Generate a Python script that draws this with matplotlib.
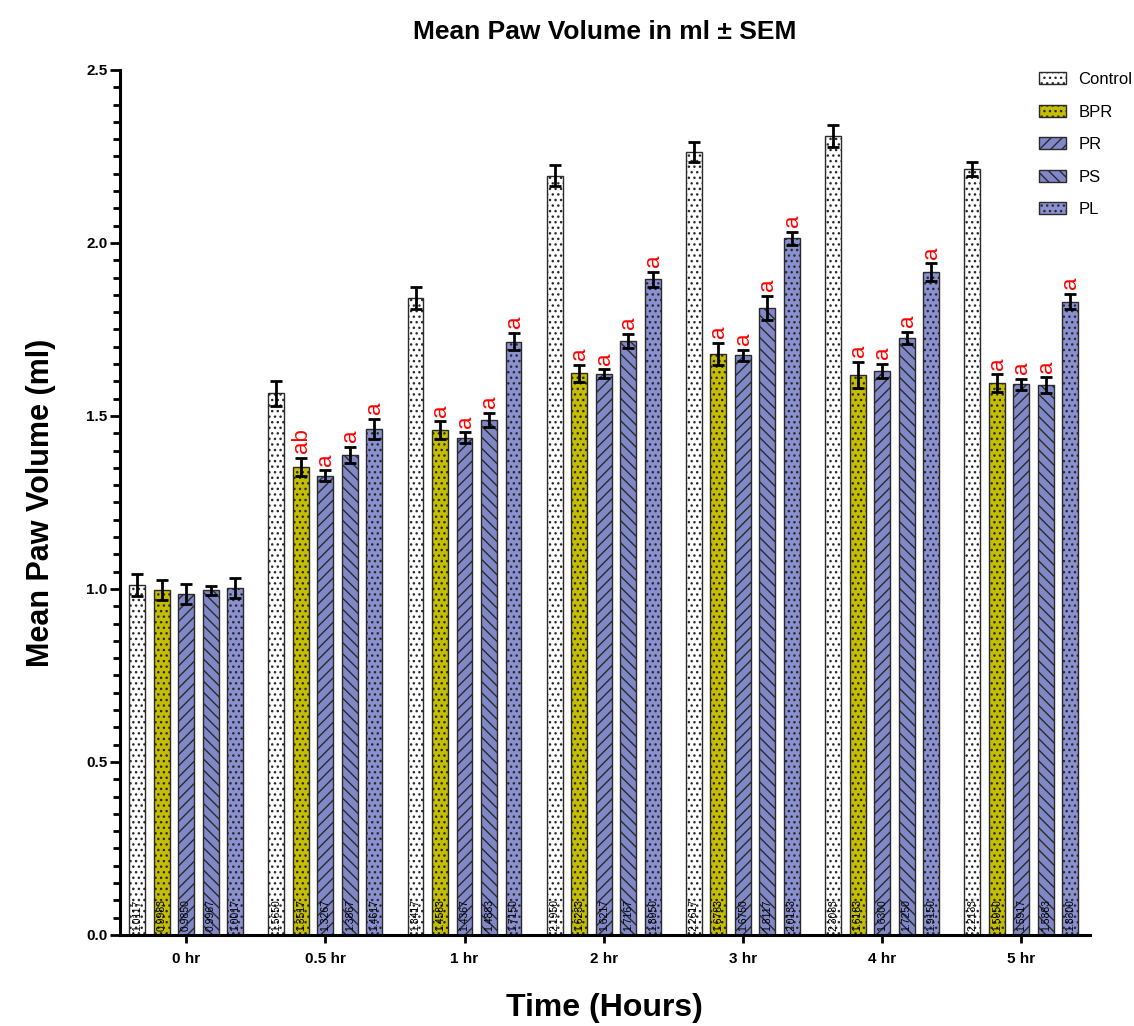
import numpy as np
import matplotlib
matplotlib.use('Agg')
import matplotlib.pyplot as plt
from matplotlib.ticker import MultipleLocator, FormatStrFormatter

plt.rcParams['font.family'] = ['Liberation Sans', 'DejaVu Sans']
plt.rcParams['hatch.linewidth'] = 1.0

# Mean paw volume (ml) per time point, one list per treatment group
timepoints = ['0 hr', '0.5 hr', '1 hr', '2 hr', '3 hr', '4 hr', '5 hr']
groups = ['Control', 'BPR', 'PR', 'PS', 'PL']

control = [1.0117, 1.5650, 1.8417, 2.1950, 2.2617, 2.3083, 2.2133]
bpr     = [0.9983, 1.3517, 1.4583, 1.6233, 1.6783, 1.6183, 1.5950]
pr      = [0.9850, 1.3267, 1.4367, 1.6217, 1.6750, 1.6300, 1.5917]
ps      = [0.9967, 1.3867, 1.4883, 1.7167, 1.8117, 1.7250, 1.5883]
pl      = [1.0017, 1.4617, 1.7150, 1.8950, 2.0133, 1.9150, 1.8300]

sem_control = [0.033, 0.035, 0.032, 0.029, 0.029, 0.032, 0.020]
sem_bpr     = [0.029, 0.026, 0.026, 0.024, 0.032, 0.037, 0.025]
sem_pr      = [0.029, 0.016, 0.016, 0.013, 0.015, 0.021, 0.016]
sem_ps      = [0.013, 0.023, 0.021, 0.020, 0.035, 0.018, 0.023]
sem_pl      = [0.029, 0.029, 0.025, 0.021, 0.018, 0.026, 0.022]

# significance letters (none for control or at 0 hr)
sig_bpr = ['', 'ab', 'a', 'a', 'a', 'a', 'a']
sig_pr  = ['', 'a', 'a', 'a', 'a', 'a', 'a']
sig_ps  = ['', 'a', 'a', 'a', 'a', 'a', 'a']
sig_pl  = ['', 'a', 'a', 'a', 'a', 'a', 'a']

means = [control, bpr, pr, ps, pl]
sems = [sem_control, sem_bpr, sem_pr, sem_ps, sem_pl]
sigs = [[''] * len(timepoints), sig_bpr, sig_pr, sig_ps, sig_pl]

face = ['#ffffff', '#c4bd00', '#8088c8', '#8088c8', '#8a90d0']
hatch = ['...', '...', '///', '\\\\\\', '...']

fig = plt.figure(figsize=(11.34, 10.26), dpi=100)
ax = fig.add_axes([0.1058, 0.0887, 0.855, 0.8431])

x = np.arange(len(timepoints))
pitch = 0.176
width = 0.114

for k, name in enumerate(groups):
    pos = x + (k - 2) * pitch
    ax.bar(pos, means[k], width, color=face[k], edgecolor='#2a2a2a',
           linewidth=1.0, hatch=hatch[k], label=name, zorder=2)
    ax.errorbar(pos, means[k], yerr=sems[k], fmt='none', ecolor='black',
                elinewidth=2, capsize=4, capthick=2, zorder=3)
    for p, m, s, lab in zip(pos, means[k], sems[k], sigs[k]):
        ax.text(p, 0.012, f'{m:.4f}', rotation=90, ha='center', va='bottom',
                fontsize=7.5, color='black', zorder=4)
        if lab:
            ax.text(p + 0.004, m + s + 0.014, lab, rotation=90, ha='center',
                    va='bottom', fontsize=16, color='red', zorder=4)

ax.set_xlim(-0.475, 6.49)
ax.set_ylim(0, 2.5)
ax.yaxis.set_major_locator(MultipleLocator(0.5))
ax.yaxis.set_minor_locator(MultipleLocator(0.05))
ax.yaxis.set_major_formatter(FormatStrFormatter('%.1f'))
ax.set_xticks(x)
ax.set_xticklabels(timepoints, fontsize=11, fontweight='bold')
for t in ax.get_yticklabels():
    t.set_fontweight('bold')
ax.tick_params(axis='y', which='major', length=7, width=2, labelsize=11, pad=2)
ax.tick_params(axis='y', which='minor', length=5, width=2)
ax.tick_params(axis='x', which='major', length=6, width=2, pad=6)

for side in ['top', 'right']:
    ax.spines[side].set_visible(False)
for side in ['left', 'bottom']:
    ax.spines[side].set_linewidth(2.2)

ax.set_title('Mean Paw Volume in ml \u00b1 SEM', fontsize=19, fontweight='bold', pad=22)
ax.set_ylabel('Mean Paw Volume (ml)', fontsize=22, fontweight='bold', labelpad=22)
ax.set_xlabel('Time (Hours)', fontsize=23, fontweight='bold', labelpad=20)

fig.legend(loc='upper left', bbox_to_anchor=(1024 / 1134, 1 - 57 / 1026),
           frameon=False, fontsize=12, handlelength=1.6, handleheight=0.7,
           labelspacing=1.05, handletextpad=0.75)

fig.savefig('out.png', dpi=100)
